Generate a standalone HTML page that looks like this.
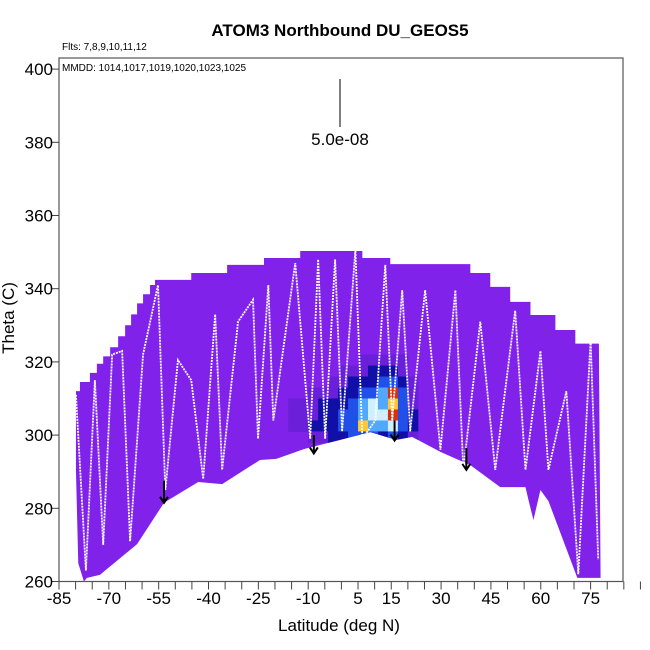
<!DOCTYPE html>
<html><head><meta charset="utf-8"><style>
body{margin:0;background:#fff}
svg{display:block;font-family:"Liberation Sans",Arial,sans-serif}
</style></head><body>
<svg id="c" width="650" height="650" viewBox="0 0 650 650"></svg>
<script>
const outline=[[-79.9,312],[-78.7,312],[-78.7,314.5],[-75.7,314.5],[-75.7,317],[-73.6,317],[-73.6,319.5],[-71.7,319.5],[-71.7,321.5],[-69.6,321.5],[-69.6,324],[-67.2,324],[-67.2,327],[-65.1,327],[-65.1,330],[-63.3,330],[-63.3,333],[-61.5,333],[-61.5,336],[-59.7,336],[-59.7,338.5],[-57.6,338.5],[-57.6,341],[-56.1,341],[-56.1,342.4],[-45.2,342.4],[-45.2,344.3],[-34.4,344.3],[-34.4,346.5],[-23.3,346.5],[-23.3,348.4],[-12.4,348.4],[-12.4,350.3],[6.3,350.3],[6.3,348.4],[14.7,348.4],[14.7,346.7],[38.8,346.7],[38.8,344.3],[44.8,344.3],[44.8,340.5],[50.8,340.5],[50.8,336.4],[56.9,336.4],[56.9,332.8],[64.4,332.8],[64.4,328.7],[70.4,328.7],[70.4,325],[77.5,325],[78,261],[71,261],[62.3,282],[59.9,285],[57.8,276.8],[56.3,282.3],[55.4,285.8],[47.8,285.8],[38.8,291.8],[29.8,295.4],[21.3,299.5],[16.5,298.7],[8.7,300.8],[-0.4,298.7],[-11.2,296.2],[-19.6,293.5],[-24.5,293.2],[-35.9,286.6],[-43.1,287.2],[-53.4,281.5],[-61.5,270.2],[-72.7,261.8],[-76.6,261],[-77.5,260],[-79.2,265],[-79.9,290.4]];
const cellLats=[-16,-13,-10,-7,-4,-1,2,5,8,11,14,17,20];
const cellThetaTops=[322,319,316,313,310,307,304,301];
const cellValues=[
[0,0,0,0,0,0,0,1,1,1,1,1,0],
[0,0,0,0,0,1,1,1,2,2,2,1,0],
[0,0,0,0,1,1,2,2,2,3,3,2,1],
[0,0,1,1,1,2,2,3,3,4,7,3,1],
[1,1,1,2,2,2,3,4,5,4,6,3,1],
[1,1,1,2,2,3,3,4,5,5,7,3,2],
[1,1,2,2,2,3,3,6,4,4,5,3,2],
[0,0,1,1,2,2,3,3,3,2,3,2,1]];
const palette=['none','#6a1fd8','#1010a8','#2050e8','#50a8ff','#d0f0ff','#ffc830','#d83010'];
const traceLat=[-79.9,-76.9,-74.2,-71.7,-69,-66,-63.6,-59.7,-55.2,-53,-49.2,-45.2,-41.6,-38,-35.9,-31.1,-26.6,-25.1,-22,-20.5,-13.9,-9.4,-7,-4.9,-1.9,0.2,4.2,6.3,10.2,13.2,15.3,18.3,20.7,25.2,29.8,34.3,36.7,41.8,46.3,52.3,55.4,59.9,62.3,67.7,71.3,75,77.3];
const traceTheta=[311,263,315,270,322,323,271,322,341,285,320.5,315,288,333,290.5,331,337,299,341,304,347,299,348,299,348,301,350.6,299,304,346.5,304,339.6,301,339.6,296,339.6,290.5,331,290.5,334,290.5,323,290.5,312,262,326,266];
const arrowLat=[-53.4,-8.3,16,37.6];
const arrowTop=[287.5,300,304,296.5];
const arrowTip=[281.5,295,298.5,290.5];
const xTicks=[-85,-70,-55,-40,-25,-10,5,15,30,45,60,75];
const yTicks=[260,280,300,320,340,360,380,400];

const L=59,R=623,T=58,B=581.5;
const X=v=>L+(v+85)*3.3225;
const Y=v=>B-(v-260)*3.66;
const svg=document.getElementById('c');
const NS='http://www.w3.org/2000/svg';
function mk(t,a,p){const e=document.createElementNS(NS,t);for(const k in a)e.setAttribute(k,a[k]);(p||svg).appendChild(e);return e;}

const defs=mk('defs',{});
const cp=mk('clipPath',{id:'clipA'},defs);
mk('polygon',{points:outline.map(p=>X(p[0])+','+Y(p[1])).join(' ')},cp);

const field=mk('polygon',{points:outline.map(p=>X(p[0])+','+Y(p[1])).join(' '),fill:'#8022ea'});



const hm=mk('g',{'clip-path':'url(#clipA)'});


cellValues.forEach((row,r)=>row.forEach((v,c)=>{
  if(!v)return;
  const x0=X(cellLats[c]),x1=X(cellLats[c]+3),y0=Y(cellThetaTops[r]),y1=Y(cellThetaTops[r]-3);
  const rc=mk('rect',{x:x0,y:y0,width:x1-x0+0.5,height:y1-y0+0.5,fill:palette[v]},hm);
  
  
}));

const tr=mk('polyline',{points:traceLat.map((v,i)=>X(v)+','+Y(traceTheta[i])).join(' '),fill:'none',stroke:'#fff','stroke-width':1.8,'stroke-dasharray':'2 1'});



arrowLat.forEach((v,i)=>{
  const g=mk('g',{stroke:'#000','stroke-width':2,fill:'none'});
  
  
  const x=X(v),y0=Y(arrowTop[i]),y1=Y(arrowTip[i]);
  mk('line',{x1:x,y1:y0,x2:x,y2:y1},g);
  mk('polyline',{points:(x-4)+','+(y1-6)+' '+x+','+y1+' '+(x+4)+','+(y1-6)},g);
});

const box=mk('rect',{x:L,y:T,width:R-L,height:B-T,fill:'none',stroke:'#555','stroke-width':1.2});



for(let v=-85;v<=90;v+=5){
  const t=mk('line',{x1:X(v),x2:X(v),y1:B,y2:B+8,stroke:'#444','stroke-width':1});
  
  
}
xTicks.forEach(v=>{
  const t=mk('text',{x:X(v),y:604,'text-anchor':'middle','font-size':17,fill:'#000'});
  t.textContent=v;
  
  
});
yTicks.forEach(v=>{
  const l=mk('line',{x1:L-7,x2:L,y1:Y(v),y2:Y(v),stroke:'#444'});
  
  
  const t=mk('text',{x:53,y:Y(v)+6,'text-anchor':'end','font-size':17,fill:'#000'});
  t.textContent=v;
  
  
});
</script>
<div style="position:absolute;left:0;top:0;width:650px;height:650px;pointer-events:none">
<svg width="650" height="650" style="font-family:'Liberation Sans',Arial,sans-serif">
<text x="340" y="36" text-anchor="middle" font-size="17" font-weight="bold">ATOM3 Northbound DU_GEOS5</text>
<text x="62" y="50" font-size="10">Flts: 7,8,9,10,11,12</text>
<text x="62" y="71" font-size="10">MMDD: 1014,1017,1019,1020,1023,1025</text>
<line x1="340" y1="79" x2="340" y2="127" stroke="#000" stroke-width="1"/>
<text x="340" y="145" text-anchor="middle" font-size="17">5.0e-08</text>
<text x="339" y="631" text-anchor="middle" font-size="17">Latitude (deg N)</text>
<text transform="translate(14,318) rotate(-90)" text-anchor="middle" font-size="17">Theta (C)</text>
</svg></div>
</body></html>
